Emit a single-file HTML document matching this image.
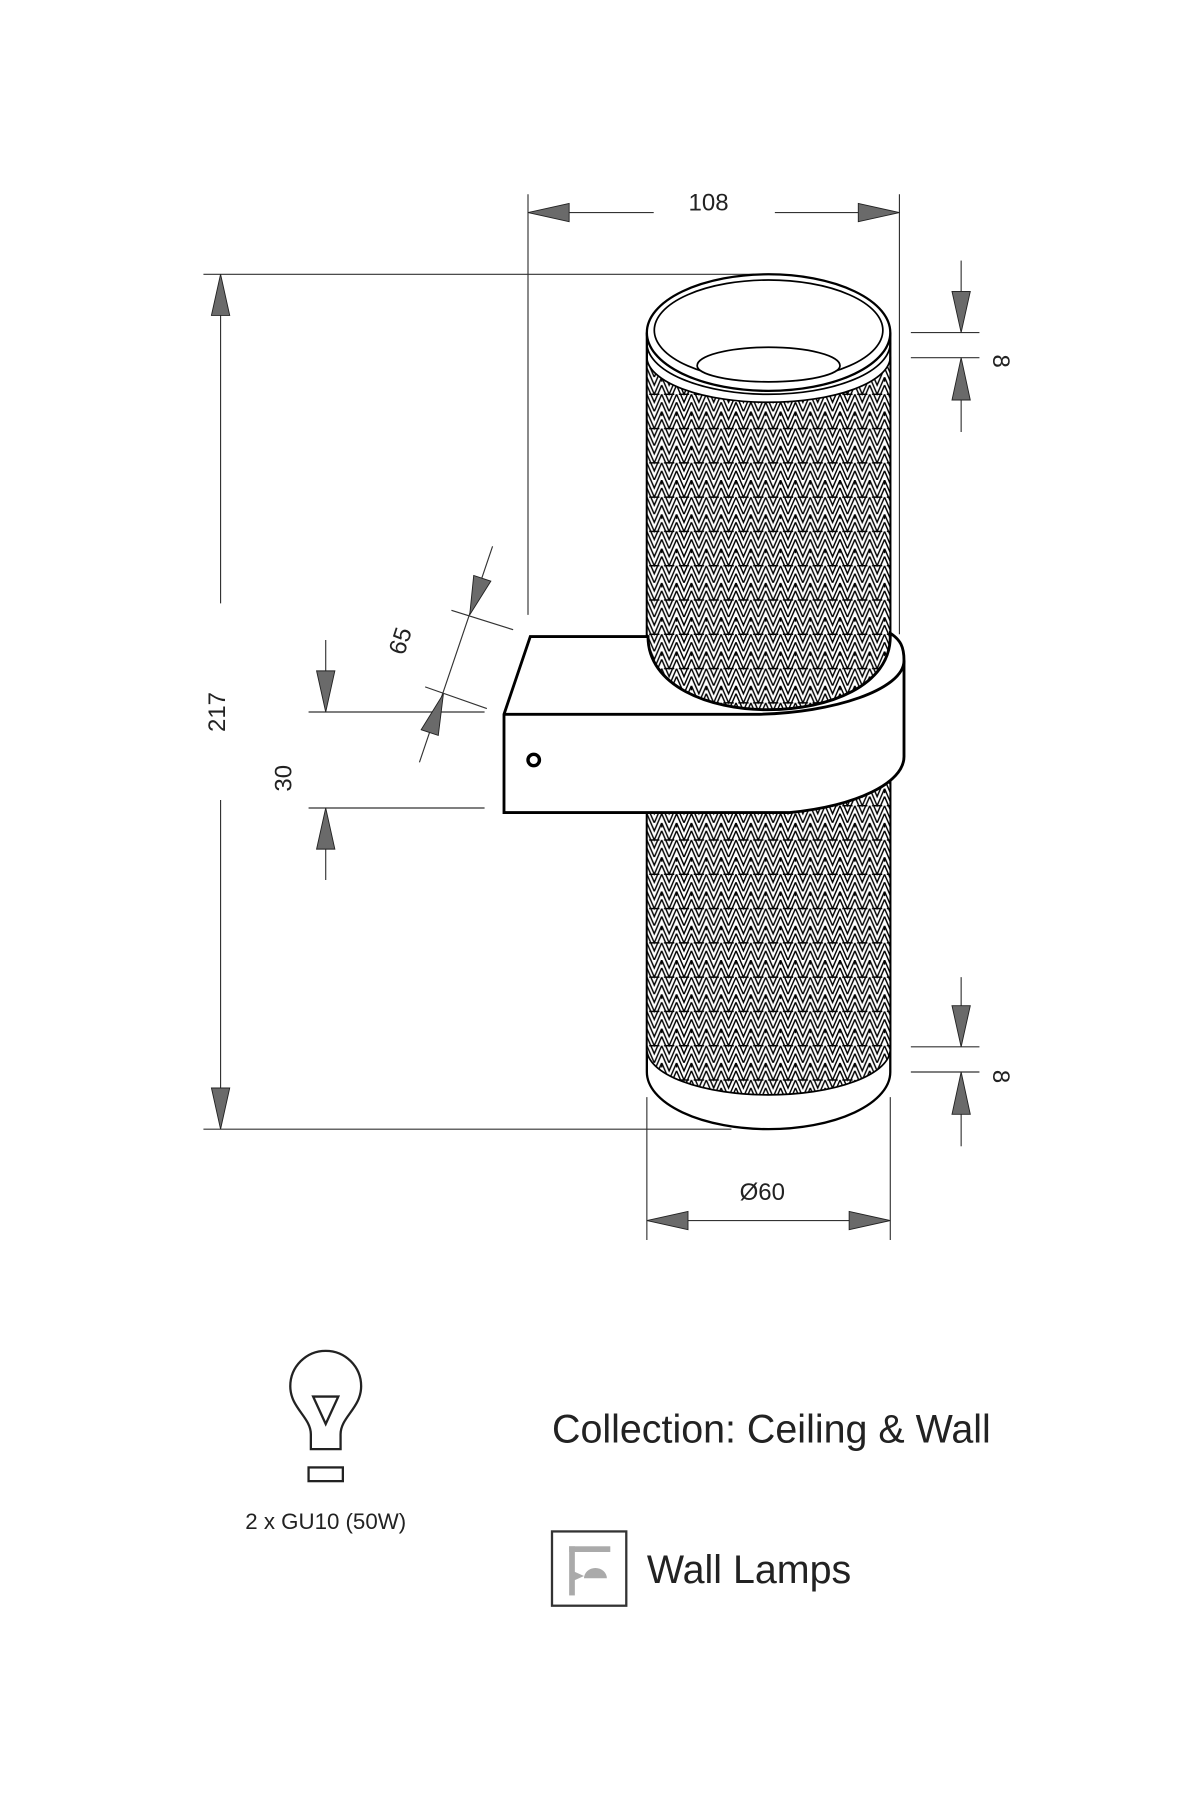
<!DOCTYPE html>
<html><head><meta charset="utf-8"><style>html,body{margin:0;padding:0;background:#fff}svg{display:block}</style></head>
<body>
<svg width="1200" height="1800" viewBox="0 0 1050 1575" xmlns="http://www.w3.org/2000/svg" font-family="Liberation Sans, sans-serif">
<defs>
<pattern id="mesh" width="13" height="30" patternUnits="userSpaceOnUse" x="566" y="0">
<rect width="13" height="30" fill="#fff"/>
<g fill="none" stroke="#000" stroke-width="1.25">
<path d="M0 0 L6.5 15 L13 0"/><path d="M0 7 L6.5 22 L13 7"/><path d="M0 15 L6.5 30 L13 15"/><path d="M0 22 L6.5 37 L13 22"/><path d="M0 -8 L6.5 7 L13 -8"/>
<path d="M2 15 H11"/><path d="M0 0 V4 M13 0 V4"/>
</g>
</pattern>
</defs>
<g stroke="#333" stroke-width="1" fill="none">
<line x1="462" y1="170" x2="462" y2="538"/><line x1="787" y1="170" x2="787" y2="555"/>
<line x1="498" y1="186" x2="572" y2="186"/><line x1="678" y1="186" x2="751" y2="186"/>
<line x1="178" y1="240" x2="660" y2="240"/><line x1="178" y1="988" x2="640" y2="988"/>
<line x1="193" y1="276" x2="193" y2="528"/><line x1="193" y1="700" x2="193" y2="952"/>
<line x1="270" y1="623" x2="424" y2="623"/><line x1="270" y1="707" x2="424" y2="707"/>
<line x1="285" y1="560" x2="285" y2="587"/><line x1="285" y1="743" x2="285" y2="770"/>
<line x1="431" y1="478" x2="367" y2="667"/>
<line x1="395" y1="534" x2="449" y2="551"/><line x1="372" y1="601" x2="426" y2="620"/>
<line x1="797" y1="291" x2="857" y2="291"/><line x1="797" y1="313" x2="857" y2="313"/>
<line x1="841" y1="228" x2="841" y2="255"/><line x1="841" y1="350" x2="841" y2="378"/>
<line x1="797" y1="916" x2="857" y2="916"/><line x1="797" y1="938" x2="857" y2="938"/>
<line x1="841" y1="855" x2="841" y2="880"/><line x1="841" y1="975" x2="841" y2="1003"/>
<line x1="566" y1="960" x2="566" y2="1085"/><line x1="779" y1="960" x2="779" y2="1085"/>
<line x1="602" y1="1068" x2="743" y2="1068"/>
</g>
<g fill="#6a6a6a" stroke="#222" stroke-width="0.8">
<path d="M462 186 L498 178 L498 194 Z"/><path d="M787 186 L751 178 L751 194 Z"/>
<path d="M193 240 L185 276 L201 276 Z"/><path d="M193 988 L185 952 L201 952 Z"/>
<path d="M285 623 L277 587 L293 587 Z"/><path d="M285 707 L277 743 L293 743 Z"/>
<path d="M411 538 L414.5 503.5 L429.5 508.5 Z"/><path d="M388 607 L368.5 638.5 L383.5 643.5 Z"/>
<path d="M841 291 L833 255 L849 255 Z"/><path d="M841 313 L833 350 L849 350 Z"/>
<path d="M841 916 L833 880 L849 880 Z"/><path d="M841 938 L833 975 L849 975 Z"/>
<path d="M566 1068 L602 1060 L602 1076 Z"/><path d="M779 1068 L743 1060 L743 1076 Z"/>
</g>
<g font-size="21" fill="#222">
<text x="620" y="184" text-anchor="middle">108</text>
<text transform="translate(197,623) rotate(-90)" text-anchor="middle">217</text>
<text transform="translate(255,681) rotate(-90)" text-anchor="middle">30</text>
<text transform="translate(357,563) rotate(-72)" text-anchor="middle">65</text>
<text transform="translate(869,316) rotate(90)" text-anchor="middle">8</text>
<text transform="translate(869,942) rotate(90)" text-anchor="middle">8</text>
<text x="667" y="1050" text-anchor="middle">Ø60</text>
</g>
<g stroke="#000" stroke-width="2">
<path d="M566 292 L566 938 A106.5 50 0 0 0 779 938 L779 292 Z" fill="#fff"/>
<path d="M566 312 A106.5 40 0 0 0 779 312 L779 918 A106.5 40 0 0 1 566 918 Z" fill="url(#mesh)" stroke-width="1.5"/>
<ellipse cx="672.5" cy="291" rx="106.5" ry="51" fill="#fff"/>
<ellipse cx="672.5" cy="289" rx="100" ry="44" fill="#fff" stroke-width="1.5"/>
<path d="M610 320 A62 16 0 0 1 735 320 A62 14 0 0 1 610 320 Z" fill="#fff" stroke-width="1.5"/>
<path d="M566 300 A106.5 45 0 0 0 779 300" fill="none" stroke-width="1.5"/>
<path d="M567 557 L464 557 L441 625 L441 711 L691 711 C750 705 791 685 791 662 L791 578 C791 566 788 560 779 554 L779 557 C779 600 725 621 672 621 C620 621 567 600 567 557 Z" fill="#fff" stroke-width="2.5"/>
<path d="M441 625 L662 625 C730 624 791 603 791 578" fill="none" stroke-width="2.5"/>
<circle cx="467" cy="665" r="5" fill="#fff" stroke-width="3"/>
</g>
<g stroke="#222" stroke-width="2" fill="none">
<path d="M272 1268 L272 1255 C272 1240 254 1232 254 1213 A31 31 0 0 1 316 1213 C316 1232 298 1240 298 1255 L298 1268 Z"/>
<path d="M274 1222 L296 1222 L285 1246 Z"/>
<rect x="270" y="1284" width="30" height="12"/>
</g>
<text x="285" y="1338" font-size="19.5" fill="#222" text-anchor="middle">2 x GU10 (50W)</text>
<text x="483" y="1262" font-size="34.5" fill="#222">Collection: Ceiling &amp; Wall</text>
<rect x="483" y="1340" width="65" height="65" fill="none" stroke="#333" stroke-width="2"/>
<g fill="#aaa">
<rect x="498" y="1353" width="5" height="43"/><rect x="498" y="1353" width="36" height="5"/>
<path d="M511 1381 A10 9 0 0 1 531 1381 Z"/><path d="M502 1375 L511 1379 L502 1383 Z"/>
</g>
<text x="566" y="1385" font-size="34.5" fill="#222">Wall Lamps</text>
</svg>
</body></html>
